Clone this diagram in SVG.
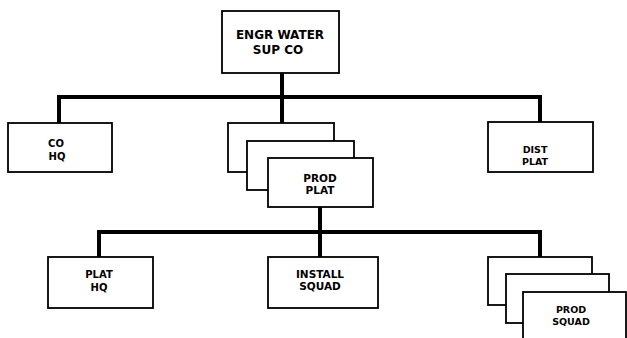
<svg xmlns="http://www.w3.org/2000/svg" width="627" height="338" viewBox="0 0 627 338">
<style>
.box{fill:#fff;stroke:#000;stroke-width:1.8}
.conn{fill:none;stroke:#000;stroke-width:4;stroke-linecap:square}
text{font-family:"DejaVu Sans","Liberation Sans",sans-serif;font-weight:bold;font-size:10.5px;text-anchor:middle;fill:#000}
.big{font-size:12px}
.s10{font-size:10px}
.s9{font-size:9.5px}
</style>
<rect width="627" height="338" fill="#fff"/>
<g id="connectors">
<path class="conn" d="M282,73 V123 M59,123 V97 H540 V122"/>
<path class="conn" d="M320,207 V257 M99,257 V232 H540 V257"/>
</g>
<g id="engr-water-sup-co">
<rect class="box" x="222" y="11" width="117" height="62"/>
<text class="big" x="280" y="39">ENGR WATER</text>
<text class="big" x="278" y="54">SUP CO</text>
</g>
<g id="co-hq">
<rect class="box" x="8" y="123" width="104" height="49"/>
<text class="s10" x="56" y="147">CO</text>
<text class="s10" x="57" y="160">HQ</text>
</g>
<g id="dist-plat">
<rect class="box" x="488" y="122" width="105" height="50"/>
<text class="s9" x="535" y="153">DIST</text>
<text class="s9" x="535" y="165">PLAT</text>
</g>
<g id="prod-plat">
<rect class="box" x="228" y="123" width="106" height="49"/>
<rect class="box" x="247" y="141" width="107" height="49"/>
<rect class="box" x="268" y="158" width="105" height="49"/>
<text x="320" y="182">PROD</text>
<text x="320" y="194">PLAT</text>
</g>
<g id="plat-hq">
<rect class="box" x="48" y="257" width="105" height="51"/>
<text class="s10" x="99" y="278">PLAT</text>
<text class="s10" x="99" y="291">HQ</text>
</g>
<g id="install-squad">
<rect class="box" x="268" y="257" width="110" height="51"/>
<text x="320" y="278">INSTALL</text>
<text x="320" y="290">SQUAD</text>
</g>
<g id="prod-squad">
<rect class="box" x="488" y="257" width="104" height="48"/>
<rect class="box" x="506" y="274" width="103" height="49"/>
<rect class="box" x="523" y="292" width="103" height="52"/>
<text class="s9" x="571" y="313">PROD</text>
<text class="s9" x="571" y="325">SQUAD</text>
</g>
</svg>
